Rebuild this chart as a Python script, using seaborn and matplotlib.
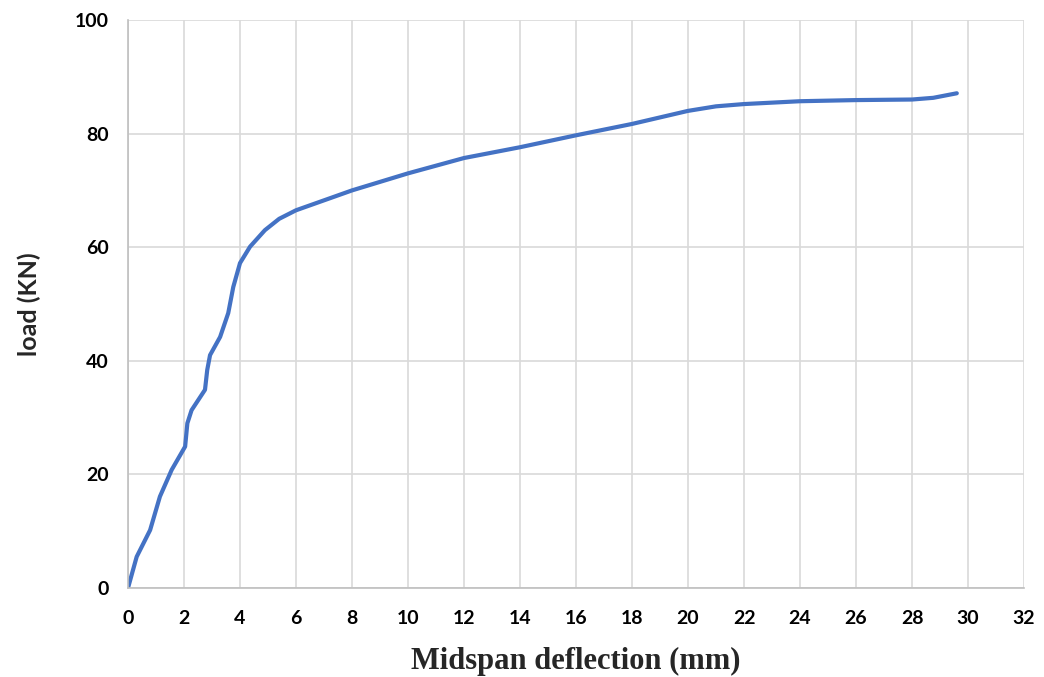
import pandas as pd
import matplotlib.pyplot as plt
import seaborn as sns

sns.set_style('whitegrid')
plt.rcParams['font.family'] = ['Lato', 'DejaVu Sans']

# --- data ---
deflection = [0, 0.31, 0.79, 1.14, 1.56, 2.04, 2.12, 2.27, 2.75, 2.83, 2.93, 3.29,
              3.58, 3.76, 4.0, 4.36, 4.89, 5.4, 6, 8, 10, 12, 14, 16, 18, 20, 21,
              22, 24, 26, 28, 28.76, 29.6]
load = [0, 5.5, 10.2, 16.1, 20.8, 24.9, 29.0, 31.3, 34.9, 38.4, 41.0, 44.2,
        48.4, 53.0, 57.2, 60.1, 63.0, 65.0, 66.5, 70.0, 73.0, 75.7, 77.6, 79.7,
        81.7, 84.0, 84.8, 85.2, 85.7, 85.9, 86.0, 86.3, 87.1]
x_ticks = list(range(0, 33, 2))
y_ticks = [0, 20, 40, 60, 80, 100]

df = pd.DataFrame({'deflection': deflection, 'load': load})

fig = plt.figure(figsize=(10.44, 6.77), dpi=100)
ax = fig.add_axes([128 / 1044, 1 - 588 / 677, 896 / 1044, 568 / 677])

sns.lineplot(data=df, x='deflection', y='load', ax=ax, color='#4472C4',
             linewidth=3, sort=False)

ax.set_xlim(0, 32)
ax.set_ylim(0, 100)
ax.set_xticks(x_ticks)
ax.set_yticks(y_ticks)
ax.grid(True, color='#d9d9d9', linewidth=1.2)

for side in ['top', 'right']:
    ax.spines[side].set_visible(False)
for side in ['left', 'bottom']:
    ax.spines[side].set_color('#bfbfbf')
    ax.spines[side].set_linewidth(1.2)

ax.tick_params(axis='both', which='major', length=6, width=1.2, color='#bfbfbf',
               labelsize=14, labelcolor='black')
ax.tick_params(axis='x', pad=10)
ax.tick_params(axis='y', pad=8)
for lbl in ax.get_xticklabels() + ax.get_yticklabels():
    lbl.set_fontweight('bold')

ax.set_ylabel('load (KN)', fontsize=18, fontweight='bold', labelpad=24)
ax.set_xlabel('Midspan deflection (mm)', fontsize=22, fontweight='bold',
              family='Liberation Serif', labelpad=14)

fig.savefig('out.png', dpi=100)
